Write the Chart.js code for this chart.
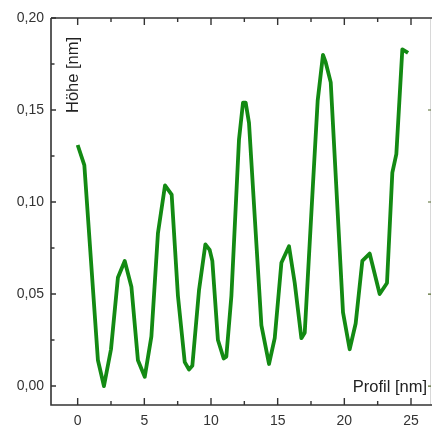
<!DOCTYPE html>
<html>
<head>
<meta charset="utf-8">
<script src="https://cdn.jsdelivr.net/npm/chart.js@4/dist/chart.umd.min.js"></script>
<style>
 html,body{margin:0;padding:0;background:#fff;}
 #wrap{width:432px;height:425px;position:relative;}
</style>
</head>
<body>
<div id="wrap"><canvas id="profilChart"></canvas></div>
<script>
// profile position [nm] and height [nm]
var profil = [0.00,0.50,1.52,1.97,2.50,3.02,3.53,4.03,4.52,5.03,5.53,6.02,6.55,7.05,7.52,8.03,8.35,8.60,9.10,9.58,9.90,10.10,10.52,10.95,11.15,11.53,12.10,12.40,12.60,12.85,13.28,13.78,14.35,14.78,15.28,15.85,16.28,16.78,17.03,17.65,18.00,18.40,18.60,18.98,19.90,20.40,20.85,21.35,21.90,22.65,23.20,23.60,23.90,24.35,24.78];
var hoehe  = [0.131,0.120,0.014,0.000,0.020,0.059,0.068,0.054,0.014,0.005,0.027,0.083,0.109,0.104,0.049,0.013,0.009,0.011,0.052,0.077,0.074,0.068,0.025,0.015,0.016,0.049,0.134,0.154,0.154,0.143,0.092,0.033,0.012,0.026,0.067,0.076,0.056,0.026,0.029,0.110,0.155,0.180,0.176,0.165,0.040,0.020,0.034,0.068,0.072,0.050,0.056,0.116,0.126,0.183,0.181];

var xTicks = [0,5,10,15,20,25];
var yTicks = [0,0.05,0.10,0.15,0.20];

var punkte = [];
for (var i=0;i<profil.length;i++) punkte.push({x:profil[i], y:hoehe[i]});

function komma(v){ return v.toFixed(2).replace('.', ','); }

// frame with inward ticks, like the origin plot
var rahmen = {
  id:'rahmen',
  afterDraw:function(chart){
    var c = chart.ctx, a = chart.chartArea;
    var sx = chart.scales.x, sy = chart.scales.y;
    c.save();
    // faint right border
    c.strokeStyle = '#d8d8d8'; c.lineWidth = 1;
    c.beginPath(); c.moveTo(a.right-0.5,a.top); c.lineTo(a.right-0.5,a.bottom); c.stroke();
    c.strokeStyle = '#333'; c.lineWidth = 1.6;
    c.beginPath();
    c.moveTo(a.left,a.top); c.lineTo(a.right+2,a.top);
    c.moveTo(a.left,a.top); c.lineTo(a.left,a.bottom);
    c.lineTo(a.right+2,a.bottom);
    c.stroke();
    c.lineWidth = 1.4;
    c.beginPath();
    for (var v=0; v<=27.5; v+=2.5){
      var px = sx.getPixelForValue(v);
      if (px>a.right) break;
      var len = (v%5==0) ? 7 : 4;
      c.moveTo(px,a.bottom); c.lineTo(px,a.bottom-len);
      c.moveTo(px,a.top); c.lineTo(px,a.top+len);
    }
    for (var w=0; w<=0.2001; w+=0.025){
      var py = sy.getPixelForValue(w);
      var l2 = (Math.round(w*1000)%50==0) ? 5 : 3.5;
      c.moveTo(a.left,py); c.lineTo(a.left+l2,py);
    }
    c.stroke();
    c.strokeStyle = '#556b2f'; c.lineWidth = 1.2;
    c.beginPath();
    for (var k=0;k<yTicks.length-1;k++){
      var py2 = sy.getPixelForValue(yTicks[k]);
      c.moveTo(a.right,py2); c.lineTo(a.right-3,py2);
    }
    c.stroke();
    // axis titles inside the plot
    c.fillStyle = '#222';
    c.font = '16.5px "Liberation Sans", Arial, sans-serif';
    c.textAlign = 'right'; c.textBaseline = 'alphabetic';
    c.fillText('Profil [nm]', 427, 392);
    c.translate(78, 113); c.rotate(-Math.PI/2);
    c.textAlign = 'left';
    c.fillText('Höhe [nm]', 0, 0);
    c.restore();
  }
};

new Chart(document.getElementById('profilChart'), {
  type:'scatter',
  data:{ datasets:[{
    data:punkte,
    showLine:true,
    borderColor:'#138a13',
    borderWidth:3.8,
    borderJoinStyle:'round',
    tension:0,
    pointRadius:0
  }]},
  options:{
    responsive:true,
    maintainAspectRatio:false,
    animation:false,
    layout:{padding:{left:0,right:1,top:18,bottom:0}},
    plugins:{legend:{display:false},tooltip:{enabled:false}},
    scales:{
      x:{
        type:'linear', min:-2, max:26.5,
        afterBuildTicks:function(s){ s.ticks = xTicks.map(function(v){return {value:v};}); },
        afterFit:function(s){ s.height = 20; },
        grid:{display:false, drawTicks:false},
        border:{display:false},
        ticks:{padding:8, color:'#333', maxRotation:0,
               font:{family:'"Liberation Sans", Arial, sans-serif', size:14},
               callback:function(v){ return String(v); }}
      },
      y:{
        type:'linear', min:-0.0103, max:0.20,
        afterBuildTicks:function(s){ s.ticks = yTicks.map(function(v){return {value:v};}); },
        afterFit:function(s){ s.width = 51; },
        grid:{display:false, drawTicks:false},
        border:{display:false},
        ticks:{padding:7, color:'#333',
               font:{family:'"Liberation Sans", Arial, sans-serif', size:14},
               callback:function(v){ return komma(v); }}
      }
    }
  },
  plugins:[rahmen]
});
</script>
</body>
</html>
